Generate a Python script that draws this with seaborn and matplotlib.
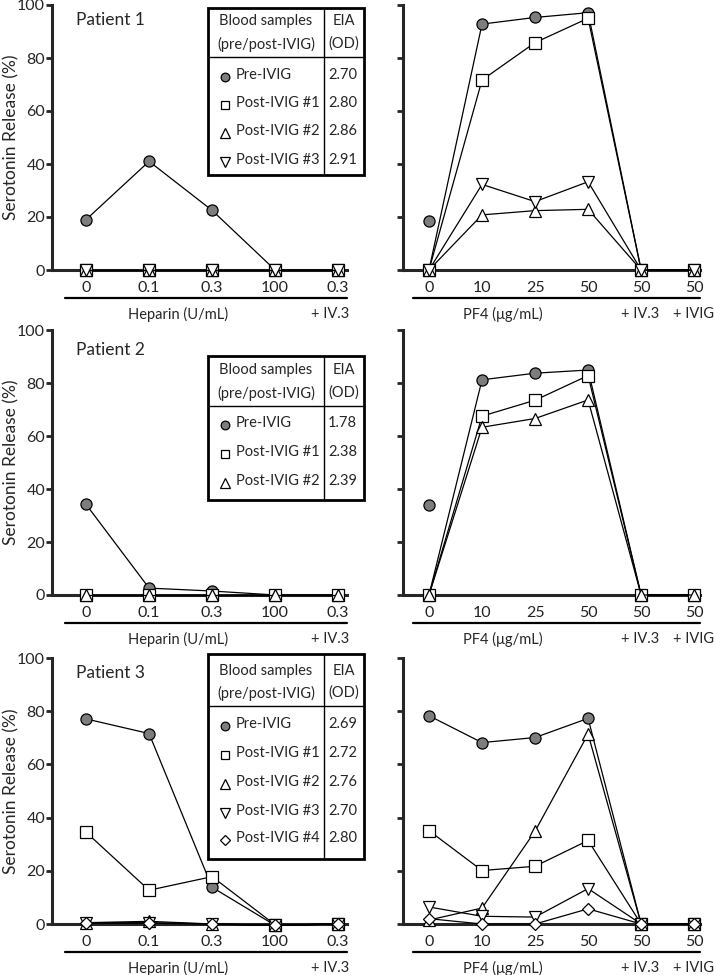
import matplotlib
matplotlib.use('Agg')
import matplotlib.pyplot as plt
from matplotlib.lines import Line2D
from matplotlib.patches import Rectangle
import seaborn as sns

sns.set_style('ticks')
plt.rcParams['font.family'] = ['Lato', 'DejaVu Sans']

# x categories
hep_labels = ['0', '0.1', '0.3', '100', '0.3']
pf4_labels = ['0', '10', '25', '50', '50', '50']
series_names = ['Pre-IVIG', 'Post-IVIG #1', 'Post-IVIG #2', 'Post-IVIG #3', 'Post-IVIG #4']

# patient 1
p1_hep_pre = [19, 41, 22.5, 0, 0]
p1_hep_post1 = [0, 0, 0, 0, 0]
p1_hep_post2 = [0, 0, 0, 0, 0]
p1_hep_post3 = [0, 0, 0, 0, 0]
p1_pf4_pre0 = 18.6          # pre-IVIG point at PF4 0, not joined
p1_pf4_pre = [0, 92.8, 95.3, 97.1, 0, 0]
p1_pf4_post1 = [0, 71.7, 85.8, 95.0, 0, 0]
p1_pf4_post2 = [0, 20.8, 22.4, 22.9, 0, 0]
p1_pf4_post3 = [0, 32.3, 25.8, 33.3, 0, 0]
p1_eia = ['2.70', '2.80', '2.86', '2.91']

# patient 2
p2_hep_pre = [34.2, 2.6, 1.5, 0, 0]
p2_hep_post1 = [0, 0, 0, 0, 0]
p2_hep_post2 = [0, 0, 0, 0, 0]
p2_pf4_pre0 = 34.0
p2_pf4_pre = [0, 81.2, 83.7, 84.9, 0, 0]
p2_pf4_post1 = [0, 67.5, 73.5, 82.8, 0, 0]
p2_pf4_post2 = [0, 63.3, 66.6, 73.6, 0, 0]
p2_eia = ['1.78', '2.38', '2.39']

# patient 3
p3_hep_pre = [77.1, 71.6, 13.8, -0.5, 0]
p3_hep_post1 = [34.5, 12.7, 17.8, -0.3, 0]
p3_hep_post2 = [0.5, 1.0, 0, -0.5, 0]
p3_hep_post3 = [0.5, 0.5, 0, -0.5, 0]
p3_hep_post4 = [0.3, 0.3, 0, -0.5, 0]
p3_pf4_pre0 = None
p3_pf4_pre = [78.3, 68.2, 70.1, 77.3, 0, 0]
p3_pf4_post1 = [35.1, 20.1, 21.7, 31.4, 0, 0]
p3_pf4_post2 = [1.5, 6.0, 34.9, 71.4, 0, 0]
p3_pf4_post3 = [6.4, 2.9, 2.6, 13.3, 0, 0]
p3_pf4_post4 = [2.0, 0, 0, 5.7, 0, 0]
p3_eia = ['2.69', '2.72', '2.76', '2.70', '2.80']

patients = [
    ('Patient 1', [p1_hep_pre, p1_hep_post1, p1_hep_post2, p1_hep_post3],
     [p1_pf4_pre, p1_pf4_post1, p1_pf4_post2, p1_pf4_post3], p1_pf4_pre0, p1_eia),
    ('Patient 2', [p2_hep_pre, p2_hep_post1, p2_hep_post2],
     [p2_pf4_pre, p2_pf4_post1, p2_pf4_post2], p2_pf4_pre0, p2_eia),
    ('Patient 3', [p3_hep_pre, p3_hep_post1, p3_hep_post2, p3_hep_post3, p3_hep_post4],
     [p3_pf4_pre, p3_pf4_post1, p3_pf4_post2, p3_pf4_post3, p3_pf4_post4], p3_pf4_pre0, p3_eia),
]

gray = '#7d7d7d'
styles = [
    dict(marker='o', markersize=8, markerfacecolor=gray),
    dict(marker='s', markersize=8, markerfacecolor='white'),
    dict(marker='^', markersize=9, markerfacecolor='white'),
    dict(marker='v', markersize=9, markerfacecolor='white'),
    dict(marker='D', markersize=6.5, markerfacecolor='white'),
]

FS = 10.5   # table / group labels
TFS = 11.5  # tick labels

W, H = 714, 975
fig = plt.figure(figsize=(W / 100, H / 100), dpi=100)

def fx(x):
    return x / W

def fy(y):
    return 1 - y / H

# pixel layout of each row: y of axis top/bottom, table geometry
rows = [
    dict(top=5, bot=270, lab=15, tab=(8, 57, 175), head=(21, 44), ry=[75, 103, 131, 160]),
    dict(top=330, bot=595, lab=20, tab=(356, 406, 500), head=(370, 393), ry=[423, 452, 481]),
    dict(top=658, bot=924, lab=15, tab=(654, 706, 859), head=(671, 693), ry=[724, 753, 782, 811, 838]),
]

for (pname, hep, pf4, pre0, eia), r in zip(patients, rows):
    axh = r['bot'] - r['top']
    axl = fig.add_axes([fx(52), fy(r['bot']), fx(347 - 52), axh / H])
    axr = fig.add_axes([fx(403), fy(r['bot']), fx(700 - 403), axh / H])

    for ax, data, labels in [(axl, hep, hep_labels), (axr, pf4, pf4_labels)]:
        pos = list(range(len(labels)))
        for vals, st in zip(data, styles):
            sns.lineplot(x=pos, y=vals, ax=ax, color='black', linewidth=0.9,
                         markeredgecolor='black', markeredgewidth=0.9,
                         estimator=None, clip_on=False, zorder=3, **st)
        ax.set_ylim(0, 100)
        ax.set_yticks([0, 20, 40, 60, 80, 100])
        ax.set_xticks(pos)
        ax.set_xticklabels(labels)
        sns.despine(ax=ax)
        ax.spines['left'].set_linewidth(2.2)
        ax.spines['bottom'].set_linewidth(2.2)
        ax.spines['bottom'].set_zorder(2)
        ax.tick_params(axis='y', length=4, width=2, labelsize=TFS, pad=1)
        ax.tick_params(axis='x', length=0, labelsize=TFS, pad=8, colors='#222222')
        ax.set_xlabel('')

    axl.set_xlim(-0.54, 4.14)
    axr.set_xlim(-0.49, 5.11)
    axr.set_yticklabels([])
    axl.set_ylabel('Serotonin Release (%)', fontsize=12.5, va='center')
    axl.yaxis.set_label_coords(-(52 - 11) / 295, 0.5)

    if pre0 is not None:
        sns.scatterplot(x=[0], y=[pre0], ax=axr, marker='o', s=64, color=gray,
                        edgecolor='black', linewidth=0.9, zorder=4, clip_on=False)

    axl.text(fx(76 - 52) / fx(295), 1 - r['lab'] / axh, pname, transform=axl.transAxes,
             fontsize=12.5, va='center', ha='left')

    # underline and group labels below x axis
    uy = fy(r['bot'] + 28)
    ly = fy(r['bot'] + 44)
    fig.add_artist(Line2D([fx(65), fx(347)], [uy, uy], color='black', lw=1.6))
    fig.add_artist(Line2D([fx(413), fx(700)], [uy, uy], color='black', lw=1.6))
    fig.text(fx(178), ly, 'Heparin (U/mL)', ha='center', va='center', fontsize=FS)
    fig.text(fx(330), ly, '+ IV.3', ha='center', va='center', fontsize=FS)
    fig.text(fx(503), ly, 'PF4 (\u03bcg/mL)', ha='center', va='center', fontsize=FS)
    fig.text(fx(640), ly, '+ IV.3', ha='center', va='center', fontsize=FS)
    fig.text(fx(714), ly, '+ IVIG', ha='right', va='center', fontsize=FS)

    # table legend
    t_top, t_div, t_bot = r['tab']
    left, right, cdiv = 208, 364, 324
    fig.add_artist(Rectangle((fx(left), fy(t_bot)), fx(right - left), (t_bot - t_top) / H,
                             fill=True, facecolor='white', edgecolor='black', lw=2.0,
                             transform=fig.transFigure, zorder=5))
    fig.add_artist(Line2D([fx(left), fx(right)], [fy(t_div), fy(t_div)], color='black', lw=1.0, zorder=6))
    fig.add_artist(Line2D([fx(cdiv), fx(cdiv)], [fy(t_top), fy(t_bot)], color='black', lw=1.0, zorder=6))
    h1, h2 = r['head']
    c1 = (left + cdiv) / 2
    c2 = (cdiv + right) / 2
    fig.text(fx(c1), fy(h1), 'Blood samples', ha='center', va='center', fontsize=FS, zorder=7)
    fig.text(fx(c1), fy(h2), '(pre/post-IVIG)', ha='center', va='center', fontsize=FS, zorder=7)
    fig.text(fx(c2), fy(h1), 'EIA', ha='center', va='center', fontsize=FS, zorder=7)
    fig.text(fx(c2), fy(h2), '(OD)', ha='center', va='center', fontsize=FS, zorder=7)
    for yy, name, val, st in zip(r['ry'], series_names, eia, styles):
        ms = st['markersize'] * 0.78
        fig.add_artist(Line2D([fx(225)], [fy(yy + 2)], marker=st['marker'], markersize=ms,
                              markerfacecolor=st['markerfacecolor'], markeredgecolor='black',
                              markeredgewidth=0.9, linestyle='none', zorder=7))
        fig.text(fx(236), fy(yy), name, ha='left', va='center', fontsize=FS, zorder=7)
        fig.text(fx(328), fy(yy), val, ha='left', va='center', fontsize=FS, zorder=7)

fig.savefig('out.png', dpi=100)
